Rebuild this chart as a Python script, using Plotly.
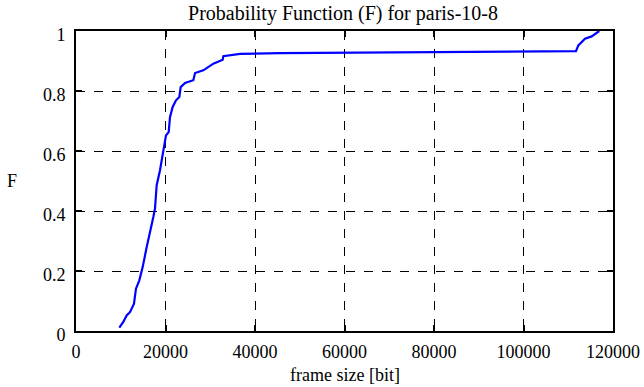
import plotly.graph_objects as go

frame_size = [9680, 10570, 11320, 12070, 12960, 13400, 14150, 14900, 15800, 16540,
              17280, 17650, 18030, 18770, 19150, 19660, 20110, 20710, 21000, 21600,
              22350, 23090, 23390, 24360, 26220, 26600, 28450, 30690, 32780, 32920,
              36650, 45590, 60000, 80000, 100000, 111730, 112250, 113740, 115230, 116930]
F = [0.011, 0.030, 0.052, 0.063, 0.091, 0.141, 0.169, 0.213, 0.280, 0.325,
     0.380, 0.408, 0.486, 0.536, 0.569, 0.602, 0.652, 0.663, 0.713, 0.747,
     0.769, 0.780, 0.813, 0.827, 0.836, 0.860, 0.869, 0.891, 0.904, 0.916,
     0.924, 0.926, 0.928, 0.930, 0.932, 0.933, 0.952, 0.974, 0.982, 1.000]

x_ticks = [0, 20000, 40000, 60000, 80000, 100000, 120000]
x_tick_text = ["0", "20000", "40000", "60000", "80000", "100000", "120000"]
y_ticks = [0, 0.2, 0.4, 0.6, 0.8, 1]
y_tick_text = ["0", "0.2", "0.4", "0.6", "0.8", "1"]

FONT = "Liberation Serif, Times New Roman, DejaVu Serif, serif"
font = dict(family=FONT, size=18, color="black")
title_font = dict(family=FONT, size=20, color="black")

fig = go.Figure()
fig.add_trace(go.Scatter(x=frame_size, y=F, mode="lines",
                         line=dict(color="#0000ff", width=2.2), showlegend=False))

axis_common = dict(showline=True, linecolor="black", linewidth=2, mirror="ticks",
                   ticks="inside", ticklen=6, tickwidth=2, tickcolor="black",
                   showgrid=True, gridcolor="black", gridwidth=1, griddash="dash",
                   zeroline=False, tickfont=font, automargin=False)

fig.update_layout(
    width=644, height=387,
    margin=dict(l=76, r=31, t=31, b=56),
    paper_bgcolor="white", plot_bgcolor="white",
    font=font,
    title=dict(text="Probability Function (F) for paris-10-8", x=343 / 644,
               xanchor="center", y=1 - 13 / 387, yanchor="middle", automargin=False,
               font=title_font),
    xaxis=dict(range=[0, 120000], tickvals=x_ticks, ticktext=x_tick_text,
               ticklabelstandoff=3, **axis_common),
    yaxis=dict(range=[0, 1], tickvals=y_ticks, ticktext=y_tick_text,
               ticklabelstandoff=5, ticklabelshift=4, **axis_common),
    annotations=[
        dict(text="F", xref="paper", yref="paper", x=(12 - 76) / 537, y=0.5,
             xanchor="center", yanchor="middle", showarrow=False, font=font),
        dict(text="frame size [bit]", xref="paper", yref="paper", x=0.5, y=-44 / 300,
             xanchor="center", yanchor="middle", showarrow=False, font=font),
    ],
)
fig.write_html("out.html", config={"displayModeBar": False},
               post_script="document.body.style.margin='0';")
